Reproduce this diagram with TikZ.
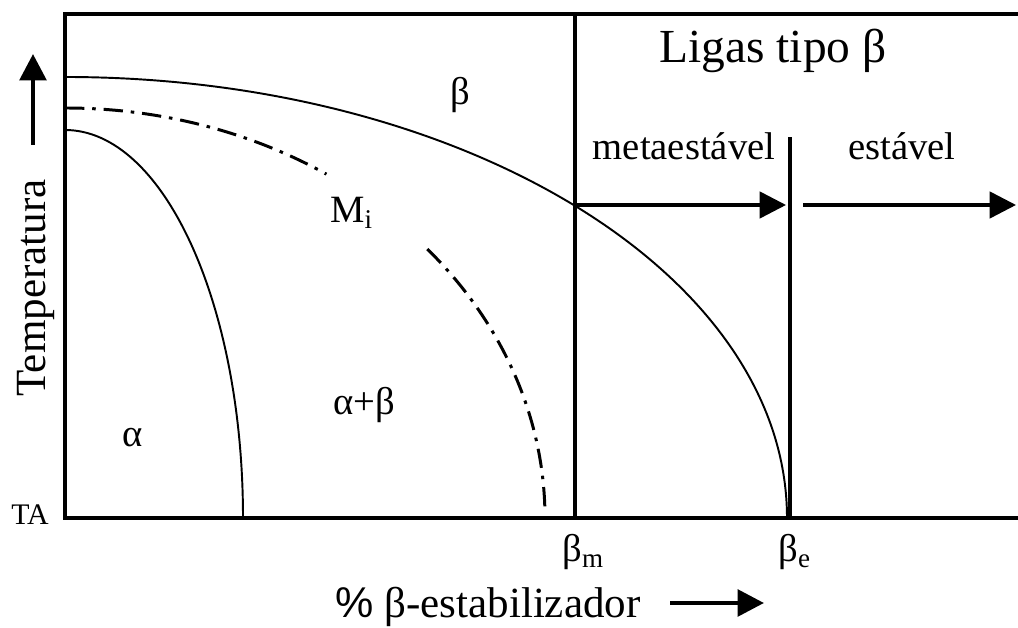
\documentclass[tikz,border=0pt]{standalone}
\usepackage{fontspec}
\setmainfont{Liberation Serif}
\newfontfamily\pctfont{Liberation Sans}
\usetikzlibrary{arrows.meta, calc}

\tikzset{
  frame/.style={line width=2.3pt},
  curve/.style={line width=1.1pt},
  mscurve/.style={line width=1.7pt, dash pattern=on 11pt off 4.5pt on 2pt off 4.5pt},
  flow/.style={line width=2pt, -{Triangle[length=15pt, width=15pt]}},
  axisarrow/.style={line width=2.6pt, -{Triangle[length=15pt, width=15pt]}},
  lbl/.style={inner sep=0pt, font=\fontsize{22}{26}\selectfont},
  title/.style={inner sep=0pt, font=\fontsize{27}{32}\selectfont},
  axislbl/.style={inner sep=0pt, font=\fontsize{24.5}{29}\selectfont}
}

\begin{document}
\begin{tikzpicture}[x=0.02cm, y=0.02cm]
  \useasboundingbox (0,0) rectangle (1018,628);

  % frame and limits
  \coordinate (O) at (65,110);
  \coordinate (TL) at (65,614);
  \coordinate (TR) at (1018,614);
  \coordinate (BR) at (1018,110);
  \coordinate (bm) at (575,110);
  \coordinate (bmtop) at (575,614);
  \coordinate (be) at (790,110);
  \coordinate (betop) at (790,491);
  \draw[frame] (TR) -- (TL) -- (O) -- (BR);
  \draw[frame] (bm) -- (bmtop);
  \draw[line width=1.8pt] (be) -- (betop);

  % phase boundaries
  \draw[curve] (65,551) arc[start angle=90, end angle=0, x radius=722, y radius=441];
  \draw[curve] (65,498) arc[start angle=90, end angle=0, x radius=178, y radius=388];
  \draw[mscurve] (65,520) arc[start angle=90, end angle=57, x radius=480, y radius=410];
  \draw[mscurve] ($(O)+({480*cos(41)},{410*sin(41)})$)
    arc[start angle=41, end angle=1, x radius=480, y radius=410];

  % flow arrows
  \coordinate (ms) at (575,423);
  \coordinate (msend) at (786,423);
  \coordinate (st) at (803,423);
  \coordinate (stend) at (1016,423);
  \draw[flow] (ms) -- (msend);
  \draw[flow] (st) -- (stend);

  % labels
  \node[title, anchor=base] (ligas) at (773,565) {Ligas tipo β};
  \node[lbl, anchor=base] (meta) at (684,468) {metaestável};
  \node[lbl, anchor=base] (est) at (902,468) {estável};
  \node[lbl] (beta) at (460,533) {β};
  \node[lbl, anchor=base west] (mi) at (330,405) {M\textsubscript{i}};
  \node[lbl, anchor=base] (ab) at (364,213) {α+β};
  \node[lbl, anchor=base] (alpha) at (133,181) {α};
  \node[inner sep=0pt, font=\fontsize{17}{20}\selectfont, anchor=base] (ta) at (30,103) {TA};
  \node[lbl, anchor=base west] (betam) at (562,66) {β\textsubscript{m}};
  \node[lbl, anchor=base west] (betae) at (778,66) {β\textsubscript{e}};

  % axes
  \node[axislbl, anchor=base west] (xlbl) at (335,10) {{\pctfont\%} β-estabilizador};
  \coordinate (xa) at (670,25);
  \coordinate (xb) at (764,25);
  \draw[axisarrow] (xa) -- (xb);
  \node[axislbl, rotate=90, anchor=base] (ylbl) at (45,340) {Temperatura};
  \coordinate (ya) at (33,483);
  \coordinate (yb) at (33,574);
  \draw[axisarrow] (ya) -- (yb);
\end{tikzpicture}
\end{document}
